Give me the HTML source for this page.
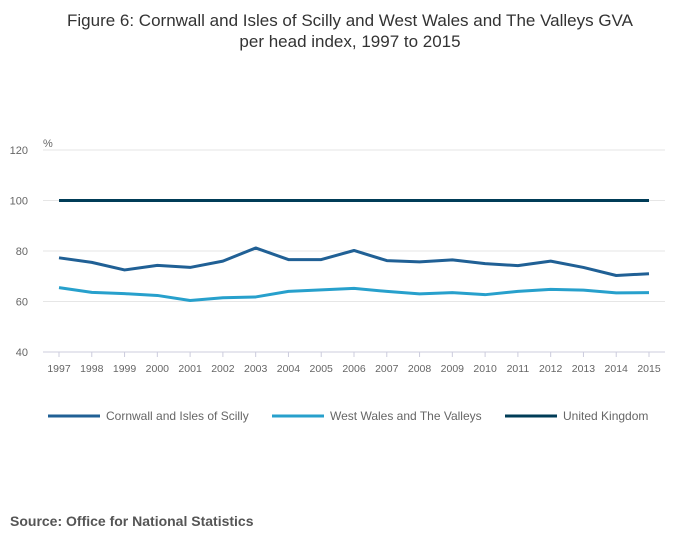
<!DOCTYPE html>
<html><head><meta charset="utf-8"><style>
body{margin:0;background:#fff;font-family:"Liberation Sans",sans-serif;}
#wrap{position:relative;width:700px;height:549px;overflow:hidden}
</style></head><body>
<div id="wrap">
<svg id="chart" width="700" height="549">
<text x="350" y="26" text-anchor="middle" font-size="17" fill="#333">Figure 6: Cornwall and Isles of Scilly and West Wales and The Valleys GVA</text>
<text x="350" y="47" text-anchor="middle" font-size="17" fill="#333">per head index, 1997 to 2015</text>
<text x="43" y="147" font-size="11" fill="#666">%</text>
<g id="grid"></g><g id="xaxis"></g><g id="series"></g>
<g id="legend">
<line x1="48" y1="416" x2="100" y2="416" stroke="#206095" stroke-width="3"/>
<text x="106" y="420" font-size="12" fill="#666">Cornwall and Isles of Scilly</text>
<line x1="272" y1="416" x2="324" y2="416" stroke="#27a0cc" stroke-width="3"/>
<text x="330" y="420" font-size="12" fill="#666">West Wales and The Valleys</text>
<line x1="505" y1="416" x2="557" y2="416" stroke="#003c57" stroke-width="3"/>
<text x="563" y="420" font-size="12" fill="#666">United Kingdom</text>
</g>
<text x="10" y="526" font-size="14" font-weight="bold" fill="#555">Source: Office for National Statistics</text>
</svg></div>
<script>
const years=[1997,1998,1999,2000,2001,2002,2003,2004,2005,2006,2007,2008,2009,2010,2011,2012,2013,2014,2015];
const cornwall=[77.3,75.5,72.5,74.3,73.5,76,81.2,76.6,76.6,80.2,76.2,75.7,76.5,75,74.2,76,73.5,70.3,71];
const westWales=[65.5,63.6,63.1,62.4,60.4,61.5,61.8,64,64.6,65.2,64,63,63.5,62.7,64,64.8,64.5,63.4,63.5];
const uk=[100,100,100,100,100,100,100,100,100,100,100,100,100,100,100,100,100,100,100];
const yTicks=[40,60,80,100,120];
const NS='http://www.w3.org/2000/svg';
const x=i=>59+i*(649-59)/(years.length-1);
const y=v=>352-(v-40)*(352-150)/80;
function mk(t,a,p){const e=document.createElementNS(NS,t);for(const k in a)e.setAttribute(k,a[k]);p.appendChild(e);return e;}
const grid=document.getElementById('grid');
yTicks.forEach(v=>{
  const l=mk('line',{x1:43,x2:665,y1:y(v),y2:y(v),stroke:v==40?'#ccd':'#e6e6e6'},grid);
  
  
  const t=mk('text',{x:28,y:y(v)+4,'font-size':11,fill:'#666','text-anchor':'end'},grid);
  t.textContent=v;
  
  
});
const xa=document.getElementById('xaxis');
years.forEach((yr,i)=>{
  mk('line',{x1:x(i),x2:x(i),y1:352,y2:357,stroke:'#ccd'},xa);
  const t=mk('text',{x:x(i),y:372,'font-size':10.5,fill:'#666','text-anchor':'middle'},xa);
  t.textContent=yr;
  
  
});
const sg=document.getElementById('series');
[[westWales,'#27a0cc','west-wales-line'],[cornwall,'#206095','cornwall-line'],[uk,'#003c57','uk-line']].forEach(([d,c,n])=>{
  const p=mk('path',{d:d.map((v,i)=>(i?'L':'M')+x(i)+','+y(v)).join(''),fill:'none',stroke:c,'stroke-width':3,'stroke-linejoin':'round'},sg);
  
  
});
</script>
</body></html>
